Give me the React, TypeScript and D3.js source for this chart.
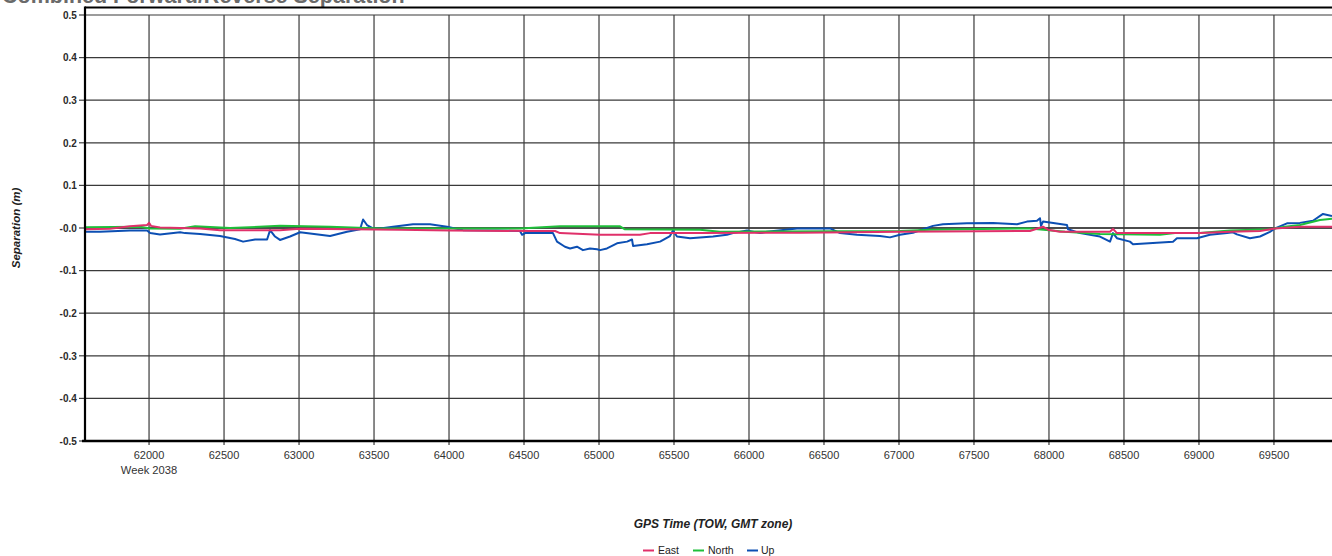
import React from "react";
import * as d3 from "d3";

const W = 1332;
const H = 556;

const titleText = "Combined Forward/Reverse Separation";
const xAxisTitle = "GPS Time (TOW, GMT zone)";
const yAxisTitle = "Separation (m)";
const weekLabel = "Week 2038";

const xTicks = [62000, 62500, 63000, 63500, 64000, 64500, 65000, 65500, 66000, 66500, 67000, 67500, 68000, 68500, 69000, 69500];
const yTicks = [0.5, 0.4, 0.3, 0.2, 0.1, 0.0, -0.1, -0.2, -0.3, -0.4, -0.5];
const yTickLabels = ["0.5", "0.4", "0.3", "0.2", "0.1", "-0.0", "-0.1", "-0.2", "-0.3", "-0.4", "-0.5"];

const seriesNames = ["East", "North", "Up"];
const seriesColors = ["#e0306a", "#1fbf3a", "#0c4fb3"];

const upTow = [61573, 61673, 61873, 61987, 62007, 62073, 62207, 62240, 62340, 62473, 62573, 62627, 62707, 62787, 62807, 62840, 62873, 62940, 63007, 63140, 63207, 63320, 63407, 63427, 63453, 63493, 63540, 63627, 63760, 63873, 63987, 64093, 64320, 64473, 64487, 64507, 64693, 64720, 64773, 64807, 64853, 64893, 64940, 64987, 65007, 65053, 65120, 65187, 65220, 65227, 65320, 65407, 65473, 65493, 65520, 65607, 65760, 65853, 65893, 65987, 66073, 66120, 66320, 66540, 66607, 66720, 66873, 66940, 67007, 67093, 67227, 67293, 67453, 67627, 67787, 67853, 67920, 67940, 67947, 67960, 68120, 68127, 68207, 68340, 68407, 68427, 68453, 68540, 68560, 68693, 68827, 68853, 68987, 69073, 69187, 69227, 69253, 69340, 69407, 69473, 69507, 69587, 69673, 69760, 69827, 69887];
const upVal = [-0.009, -0.009, -0.006, -0.006, -0.012, -0.015, -0.010, -0.012, -0.014, -0.019, -0.026, -0.032, -0.027, -0.027, -0.005, -0.020, -0.028, -0.020, -0.010, -0.016, -0.019, -0.009, -0.003, 0.020, 0.007, -0.001, -0.001, 0.003, 0.009, 0.009, 0.003, -0.005, -0.006, -0.007, -0.016, -0.012, -0.012, -0.032, -0.044, -0.048, -0.044, -0.052, -0.048, -0.050, -0.052, -0.048, -0.036, -0.032, -0.027, -0.042, -0.038, -0.032, -0.019, -0.006, -0.020, -0.024, -0.020, -0.016, -0.012, -0.006, -0.012, -0.009, -0.001, -0.001, -0.012, -0.016, -0.019, -0.022, -0.016, -0.011, 0.005, 0.009, 0.011, 0.012, 0.009, 0.015, 0.017, 0.023, 0.005, 0.015, 0.007, -0.003, -0.012, -0.020, -0.032, -0.012, -0.024, -0.032, -0.038, -0.035, -0.032, -0.024, -0.024, -0.016, -0.012, -0.010, -0.015, -0.024, -0.020, -0.009, -0.001, 0.011, 0.012, 0.017, 0.033, 0.028];

const northTow = [61573, 61940, 62007, 62207, 62307, 62540, 62873, 63207, 63540, 64473, 64740, 65140, 65173, 65673, 65807, 66140, 67007, 67207, 67873, 68107, 68340, 68740, 68840, 69007, 69207, 69473, 69573, 69673, 69807, 69887];
const northVal = [0.002, 0.003, -0.001, -0.002, 0.004, 0.000, 0.005, 0.003, -0.001, -0.001, 0.004, 0.004, -0.003, -0.004, -0.009, -0.008, -0.007, -0.004, -0.001, -0.009, -0.014, -0.016, -0.012, -0.012, -0.006, -0.003, 0.003, 0.007, 0.019, 0.022];

const eastTow = [61573, 61740, 61873, 61987, 62000, 62013, 62073, 62340, 62473, 62873, 63007, 63673, 64007, 64540, 64707, 64740, 65007, 65273, 65340, 65673, 66340, 67007, 67873, 67960, 67993, 68073, 68407, 68427, 68453, 69007, 69207, 69407, 69507, 69673, 69887];
const eastVal = [-0.003, -0.002, 0.004, 0.007, 0.012, 0.005, 0.001, -0.001, -0.005, -0.005, -0.002, -0.004, -0.006, -0.007, -0.007, -0.012, -0.016, -0.016, -0.012, -0.012, -0.011, -0.009, -0.007, 0.003, -0.004, -0.009, -0.009, -0.002, -0.012, -0.012, -0.009, -0.007, -0.001, 0.003, 0.003];

const FONT = "'Liberation Sans', Arial, sans-serif";

export default function App() {
  const left = 85;
  const right = 1332;
  const top = 15;
  const bottom = 441;
  const x = d3.scaleLinear().domain([61573, 69887]).range([left, right]);
  const y = d3.scaleLinear().domain([-0.5, 0.5]).range([bottom, top]);

  const line = d3
    .line<[number, number]>()
    .x((d) => x(d[0]))
    .y((d) => y(d[1]));

  const zip = (a: number[], b: number[]) => a.map((t, i) => [t, b[i]] as [number, number]);
  const series = [
    { name: "Up", color: seriesColors[2], data: zip(upTow, upVal) },
    { name: "North", color: seriesColors[1], data: zip(northTow, northVal) },
    { name: "East", color: seriesColors[0], data: zip(eastTow, eastVal) },
  ];

  const legendItems = [
    { name: seriesNames[0], color: seriesColors[0], lx: 643, tx: 658 },
    { name: seriesNames[1], color: seriesColors[1], lx: 693, tx: 708 },
    { name: seriesNames[2], color: seriesColors[2], lx: 747, tx: 761 },
  ];

  return (
    <div style={{ position: "fixed", left: 0, top: 0, width: W, height: H, background: "#fff" }}>
      <svg width={W} height={H} style={{ display: "block", fontFamily: FONT }}>
        <defs>
          <clipPath id="plotclip">
            <rect x={left} y={top - 8} width={right - left} height={bottom - top + 8} />
          </clipPath>
        </defs>
        <text x={2} y={3} fontSize={21.5} fontWeight="bold" fill="#6a6a6a">
          {titleText}
        </text>

        {/* horizontal gridlines */}
        {yTicks.map((t) => (
          <line
            key={"h" + t}
            x1={left}
            x2={right}
            y1={y(t)}
            y2={y(t)}
            stroke={t === 0 ? "#111" : "#3a3a3a"}
            strokeWidth={t === 0 ? 1.5 : 1.2}
          />
        ))}
        {/* vertical gridlines */}
        {xTicks.map((t) => (
          <line key={"v" + t} x1={x(t)} x2={x(t)} y1={top} y2={bottom + 4} stroke="#3a3a3a" strokeWidth={1.2} />
        ))}

        {/* y ticks */}
        {yTicks.map((t, i) => (
          <g key={"yt" + t}>
            <line x1={79} x2={left} y1={y(t)} y2={y(t)} stroke="#444" strokeWidth={1.2} />
            <text x={76.8} y={y(t) + 3.7} fontSize={10} fontWeight="bold" textAnchor="end" fill="#2a2a2a">
              {yTickLabels[i]}
            </text>
          </g>
        ))}

        {/* x tick labels */}
        {xTicks.map((t) => (
          <text key={"xl" + t} x={x(t)} y={459} fontSize={11} textAnchor="middle" fill="#333">
            {t}
          </text>
        ))}
        <text x={x(62000)} y={474} fontSize={11.2} textAnchor="middle" fill="#333">
          {weekLabel}
        </text>

        {/* series */}
        <g clipPath="url(#plotclip)">
          {series.map((s) => (
            <path key={s.name} d={line(s.data) || ""} fill="none" stroke={s.color} strokeWidth={2} strokeLinejoin="round" />
          ))}
        </g>

        {/* frame */}
        <line x1={left} x2={right} y1={7.5} y2={7.5} stroke="#000" strokeWidth={2} />
        <line x1={left} x2={left} y1={6.5} y2={bottom + 1} stroke="#000" strokeWidth={2.2} />
        <line x1={82} x2={right} y1={bottom} y2={bottom} stroke="#000" strokeWidth={2.5} />

        {/* axis titles */}
        <text x={713} y={528} fontSize={12} fontWeight="bold" fontStyle="italic" textAnchor="middle" fill="#222">
          {xAxisTitle}
        </text>
        <text
          transform={`translate(19.5, ${y(0)}) rotate(-90)`}
          fontSize={11.5}
          fontWeight="bold"
          fontStyle="italic"
          textAnchor="middle"
          fill="#222"
        >
          {yAxisTitle}
        </text>

        {/* legend */}
        {legendItems.map((it) => (
          <g key={it.name}>
            <line x1={it.lx} x2={it.lx + 11} y1={550.5} y2={550.5} stroke={it.color} strokeWidth={2} />
            <text x={it.tx} y={554} fontSize={10.5} fill="#222">
              {it.name}
            </text>
          </g>
        ))}
      </svg>
    </div>
  );
}
